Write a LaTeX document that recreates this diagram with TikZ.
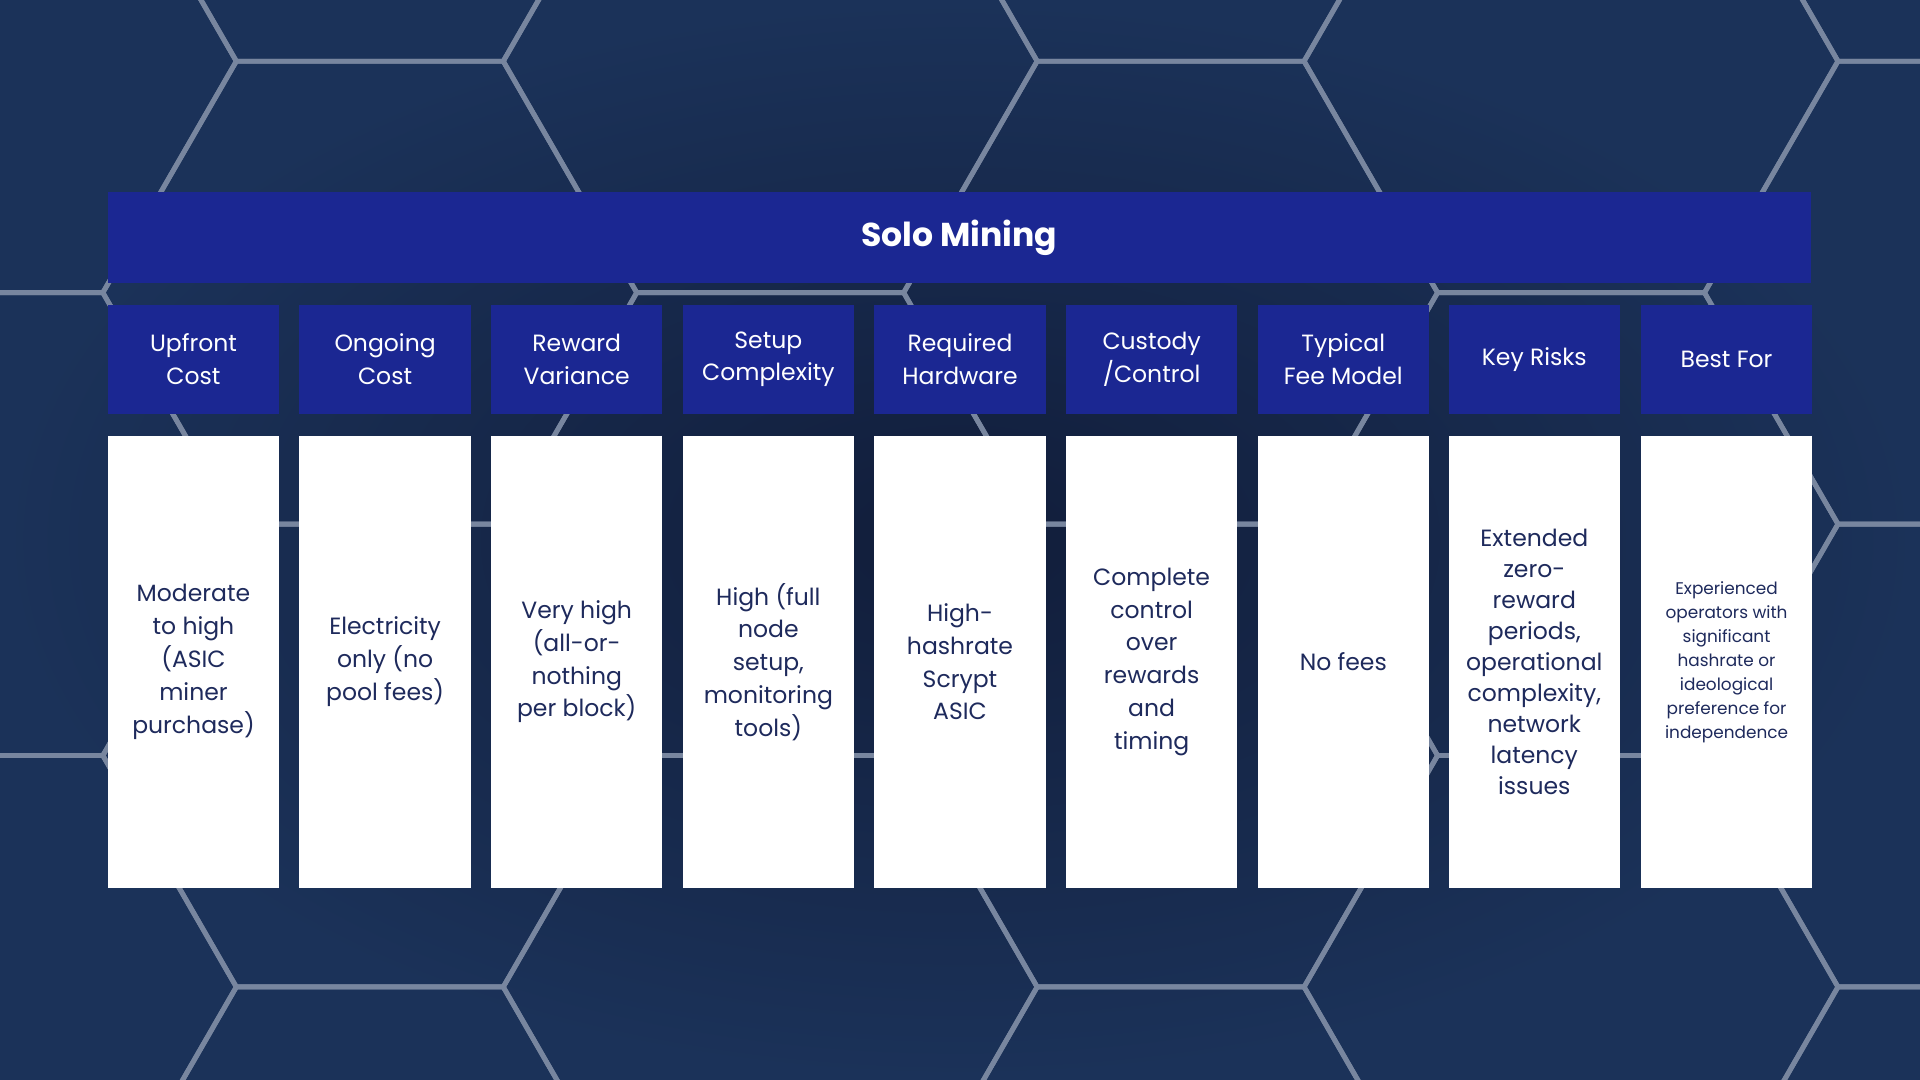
\documentclass[tikz,border=0pt]{standalone}
\usepackage{fontspec}
\setmainfont{Poppins}
\begin{document}
\begin{tikzpicture}[x=0.5pt,y=-0.5pt,
  hex/.style={draw=hexline,line width=2pt},
  title/.style={fill=tblue,text=white,font=\fontsize{13.5}{16}\selectfont\bfseries,minimum width=695.5pt,minimum height=37pt,inner sep=0pt},
  head/.style={fill=tblue,text=white,font=\fontsize{9.6}{13.3}\selectfont,minimum width=70pt,minimum height=44.5pt,inner sep=0pt,align=center},
  body/.style={fill=white,text=tnavy,font=\fontsize{9.6}{13.4}\selectfont,minimum width=70pt,minimum height=184.5pt,inner sep=0pt,align=center},
  tight/.style={font=\fontsize{9.6}{12.7}\selectfont},
  small/.style={font=\fontsize{6.9}{9.8}\selectfont}]
\definecolor{bgA}{HTML}{111D3A}
\definecolor{bgB}{HTML}{1B3259}
\definecolor{hexline}{HTML}{78869F}
\definecolor{tblue}{HTML}{1B2792}
\definecolor{tnavy}{HTML}{1E2A5C}
\useasboundingbox (0,0) rectangle (1568,882);
\shade[inner color=bgA,outer color=bgB] (0,0) rectangle (1568,882);
\begin{scope}
\clip (0,0) rectangle (1568,882);
\foreach \i in {-1,...,5}{
  \foreach \j in {-1,...,2}{
    \pgfmathsetmacro\cx{302+327*\i}
    \pgfmathsetmacro\cy{239+378*\j+189*mod(\i+10,2)}
    \draw[hex] (\cx-109,\cy-189) -- (\cx+109,\cy-189) -- (\cx+218,\cy) -- (\cx+109,\cy+189) -- (\cx-109,\cy+189) -- (\cx-218,\cy) -- cycle;
  }}
\end{scope}
\node[title] (t) at (783.5,194) {Solo Mining};
\foreach \n/\h/\b [count=\k from 0] in {
 a/{Upfront\\Cost}/{Moderate\\to high\\(ASIC\\miner\\purchase)},
 b/{Ongoing\\Cost}/{Electricity\\only (no\\pool fees)},
 c/{Reward\\Variance}/{Very high\\(all-or-\\nothing\\per block)},
 d/{Setup\\Complexity}/{High (full\\node\\setup,\\monitoring\\tools)},
 e/{Required\\Hardware}/{High-\\hashrate\\Scrypt\\ASIC},
 f/{Custody\\/Control}/{Complete\\control\\over\\rewards\\and\\timing},
 g/{Typical\\Fee Model}/{No fees}}{
  \node[head] (h\n) at ({158+156.5*\k},293.5) {\h};
  \node[body] (b\n) at ({158+156.5*\k},540.5) {\b};
}
\node[head] (hh) at (1253,293.5) {Key Risks};
\node[body,tight] (bh) at (1253,540.5) {Extended\\zero-\\reward\\periods,\\operational\\complexity,\\network\\latency\\issues};
\node[head] (hi) at (1410,293.5) {Best For};
\node[body,small] (bi) at (1410,540.5) {Experienced\\operators with\\significant\\hashrate or\\ideological\\preference for\\independence};
\end{tikzpicture}
\end{document}
